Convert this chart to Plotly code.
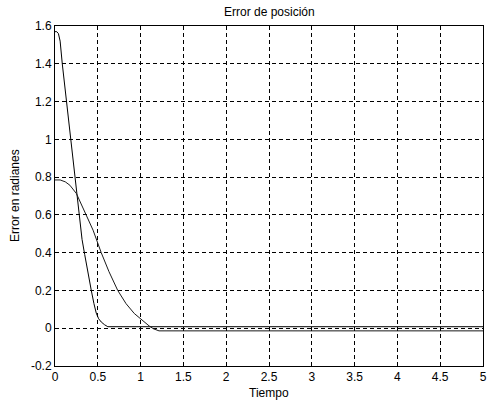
import plotly.graph_objects as go

# Curve 1: initial error ~pi/2
t1 = [0, 0.02, 0.04, 0.06, 0.085, 0.124, 0.174, 0.23, 0.28, 0.316, 0.347, 0.385,
      0.424, 0.455, 0.482, 0.51, 0.54, 0.58, 0.617, 5.0]
e1 = [1.57, 1.57, 1.56, 1.52, 1.40, 1.24, 1.02, 0.80, 0.60, 0.47, 0.39, 0.29,
      0.20, 0.13, 0.08, 0.05, 0.033, 0.018, 0.008, 0.008]

# Curve 2: initial error ~pi/4
t2 = [0, 0.06, 0.12, 0.174, 0.25, 0.30, 0.36, 0.445, 0.54, 0.63, 0.733, 0.83,
      0.926, 1.04, 1.10, 1.15, 1.215, 5.0]
e2 = [0.785, 0.785, 0.775, 0.757, 0.713, 0.665, 0.60, 0.519, 0.40, 0.30, 0.20, 0.13,
      0.078, 0.033, 0.012, -0.003, -0.014, -0.014]

x_ticks = [0, 0.5, 1, 1.5, 2, 2.5, 3, 3.5, 4, 4.5, 5]
x_labels = ["0", "0.5", "1", "1.5", "2", "2.5", "3", "3.5", "4", "4.5", "5"]
y_ticks = [-0.2, 0, 0.2, 0.4, 0.6, 0.8, 1.0, 1.2, 1.4, 1.6]
y_labels = ["-0.2", "0", "0.2", "0.4", "0.6", "0.8", "1", "1.2", "1.4", "1.6"]

title = "Error de posición"
xlabel = "Tiempo"
ylabel = "Error en radianes"

font = "Liberation Sans, Arial, sans-serif"

fig = go.Figure()
fig.add_trace(go.Scatter(x=t1, y=e1, mode="lines", line=dict(color="#000000", width=1)))
fig.add_trace(go.Scatter(x=t2, y=e2, mode="lines", line=dict(color="#1a1a1a", width=1)))

axis_common = dict(
    showgrid=True, gridcolor="#000000", gridwidth=1, griddash="4px,3px",
    zeroline=False, showline=True, linecolor="#000000", linewidth=1, mirror=True,
    ticks="inside", ticklen=4, tickcolor="#000000",
    ticklabeloverflow="allow",
    tickfont=dict(family=font, size=12, color="#000000"),
)

fig.update_layout(
    width=488, height=402,
    margin=dict(l=55, r=1, t=26, b=36),
    paper_bgcolor="white", plot_bgcolor="white",
    showlegend=False,
    xaxis=dict(range=[0, 5], tickvals=x_ticks, ticktext=x_labels, **axis_common),
    yaxis=dict(range=[-0.2, 1.6], tickvals=y_ticks, ticktext=y_labels, **axis_common),
    annotations=[
        dict(text=title, xref="paper", yref="paper", x=0.5, y=1, yanchor="bottom",
             yshift=5, showarrow=False, font=dict(family=font, size=12, color="#000")),
        dict(text=xlabel, xref="paper", yref="paper", x=0.5, y=0, yanchor="top",
             yshift=-18, showarrow=False, font=dict(family=font, size=12, color="#000")),
        dict(text=ylabel, xref="paper", yref="paper", x=0, y=0.5, xanchor="center",
             xshift=-40, textangle=-90, showarrow=False,
             font=dict(family=font, size=12, color="#000")),
    ],
)

fig.write_html(
    "out.html",
    config={"displayModeBar": False},
    post_script="document.body.style.margin='0';document.body.style.overflow='hidden';",
)
